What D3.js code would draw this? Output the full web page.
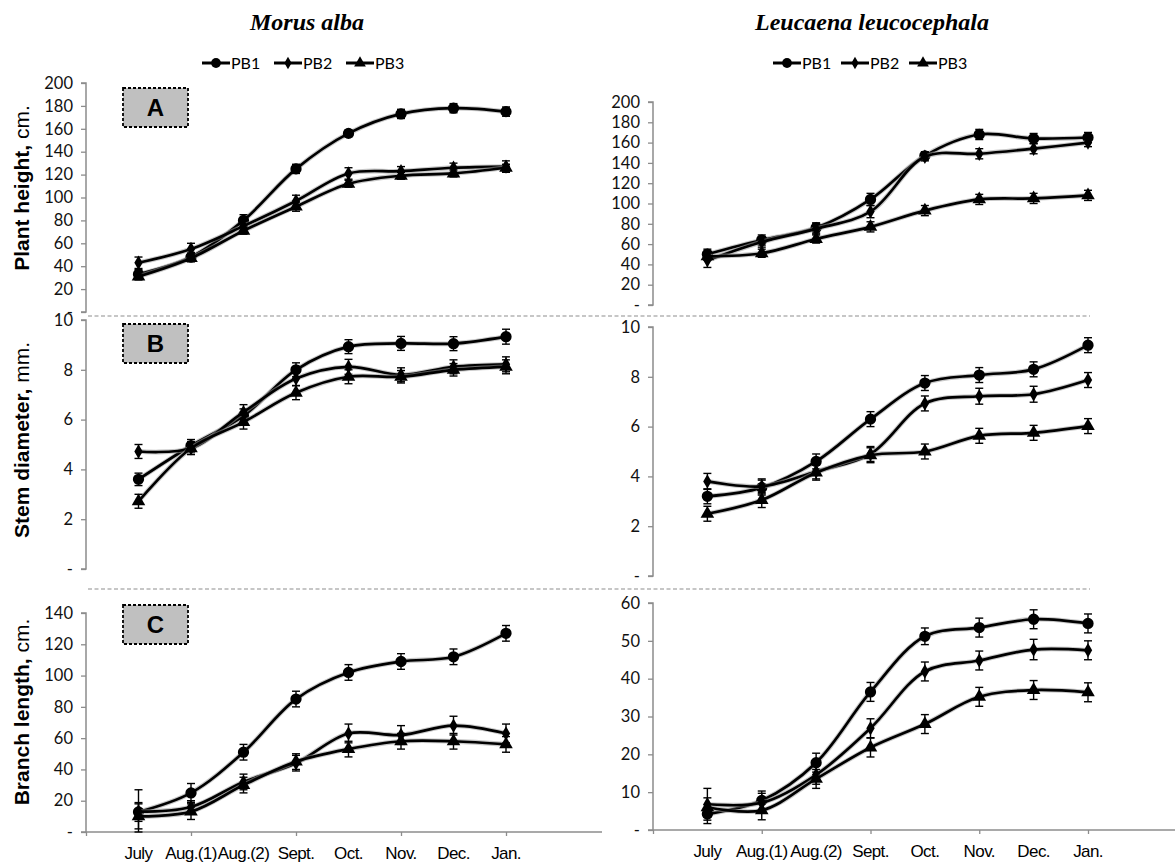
<!DOCTYPE html>
<html>
<head>
<meta charset="utf-8">
<script src="https://cdn.jsdelivr.net/npm/d3@7"></script>
<style>
  html, body { margin: 0; padding: 0; background: #fff; }
  svg { display: block; }
</style>
</head>
<body>
<svg id="chart" width="1175" height="864"></svg>
<script>
// Sampling dates (x categories) and treatment series
const months = ["July", "Aug.(1)", "Aug.(2)", "Sept.", "Oct.", "Nov.", "Dec.", "Jan."];
const seriesNames = ["PB1", "PB2", "PB3"];
const speciesTitles = ["Morus alba", "Leucaena leucocephala"];
const panelLetters = ["A", "B", "C"];
const axisTitlesBold = ["Plant height,", "Stem diameter,", "Branch length,"];
const axisTitlesUnit = ["cm.", "mm.", "cm."];

// Morus alba — plant height (cm)
const morusHeightPB1 = [33, 48, 80, 125, 156, 173, 178, 175];
const morusHeightPB2 = [43, 55, 75, 97, 121, 123, 126, 127];
const morusHeightPB3 = [31, 47, 71, 92, 112, 119, 121, 126];
const morusHeightErr1 = [4, 4, 5, 4, 3, 4, 4, 4];
const morusHeightErr2 = [5, 5, 5, 5, 5, 4, 4, 5];
const morusHeightErr3 = [3, 3, 3, 4, 3, 3, 3, 3];

// Leucaena leucocephala — plant height (cm)
const leucHeightPB1 = [50, 64, 76, 104, 147, 168, 164, 165];
const leucHeightPB2 = [44, 62, 75, 92, 146, 149, 154, 160];
const leucHeightPB3 = [48, 51, 65, 77, 93, 104, 105, 108];
const leucHeightErr1 = [5, 5, 5, 6, 4, 5, 5, 5];
const leucHeightErr2 = [7, 5, 5, 6, 4, 5, 5, 4];
const leucHeightErr3 = [4, 4, 4, 5, 5, 5, 5, 5];

// Morus alba — stem diameter (mm)
const morusDiamPB1 = [3.6, 4.95, 6.15, 8.0, 8.93, 9.06, 9.05, 9.33];
const morusDiamPB2 = [4.72, 4.85, 6.3, 7.65, 8.12, 7.8, 8.12, 8.22];
const morusDiamPB3 = [2.72, 4.85, 5.9, 7.08, 7.72, 7.72, 8.0, 8.12];
const morusDiamErr1 = [0.25, 0.25, 0.28, 0.28, 0.28, 0.28, 0.28, 0.3];
const morusDiamErr2 = [0.28, 0.25, 0.3, 0.28, 0.3, 0.28, 0.28, 0.3];
const morusDiamErr3 = [0.28, 0.25, 0.28, 0.28, 0.28, 0.25, 0.25, 0.28];

// Leucaena leucocephala — stem diameter (mm)
const leucDiamPB1 = [3.2, 3.55, 4.6, 6.3, 7.75, 8.07, 8.3, 9.27];
const leucDiamPB2 = [3.8, 3.6, 4.2, 4.9, 6.93, 7.22, 7.3, 7.87];
const leucDiamPB3 = [2.5, 3.05, 4.15, 4.85, 5.0, 5.63, 5.75, 6.02];
const leucDiamErr1 = [0.3, 0.3, 0.3, 0.3, 0.3, 0.3, 0.3, 0.3];
const leucDiamErr2 = [0.32, 0.3, 0.3, 0.3, 0.3, 0.32, 0.32, 0.3];
const leucDiamErr3 = [0.3, 0.3, 0.3, 0.3, 0.3, 0.3, 0.3, 0.3];

// Morus alba — branch length (cm)
const morusBranchPB1 = [12.8, 25, 51, 85, 102, 109, 112, 127];
const morusBranchPB2 = [13, 16, 32, 44, 63, 62, 68, 63];
const morusBranchPB3 = [10, 13, 30, 45, 53, 58, 58, 56];
const morusBranchErr1 = [6, 6, 5, 5, 5, 5, 5, 5];
const morusBranchErr2 = [14, 4, 5, 5, 6, 6, 6, 6];
const morusBranchErr3 = [8, 5, 5, 5, 5, 5, 5, 5];

// Leucaena leucocephala — branch length (cm)
const leucBranchPB1 = [4.2, 7.8, 17.8, 36.5, 51.2, 53.5, 55.7, 54.6];
const leucBranchPB2 = [6.8, 7.2, 14.6, 26.9, 41.9, 44.8, 47.7, 47.5];
const leucBranchPB3 = [6.0, 5.2, 13.5, 21.8, 28, 35.2, 37, 36.4];
const leucBranchErr1 = [2.5, 2.5, 2.5, 2.5, 2.2, 2.5, 2.5, 2.5];
const leucBranchErr2 = [4.2, 2.5, 2.5, 2.5, 2.5, 2.5, 2.7, 2.5];
const leucBranchErr3 = [2.5, 2.5, 2.5, 2.5, 2.5, 2.5, 2.5, 2.5];

// Y-axis ticks per row
const heightTicks = [0, 20, 40, 60, 80, 100, 120, 140, 160, 180, 200];
const diamTicks = [0, 2, 4, 6, 8, 10];
const morusBranchTicks = [0, 20, 40, 60, 80, 100, 120, 140];
const leucBranchTicks = [0, 10, 20, 30, 40, 50, 60];

const svg = d3.select("#chart");
const tickFont = "Lato, 'Open Sans', sans-serif";
const axisGray = "#8c8c8c";

// Column geometry: x position of axis origin (index -1) and of the last month (index 7)
const columns = [
  { x0: 86, x1: 506, axisEnd: 602, titleX: 307, legendX: 202, legendStep: 72 },
  { x0: 653, x1: 1088, axisEnd: 1175, titleX: 872, legendX: 773, legendStep: 68 }
];

// Panel definitions (row, column) with their vertical extent
const panels = [
  { row: 0, col: 0, ticks: heightTicks, yTop: 83, yZero: 312,
    series: [morusHeightPB1, morusHeightPB2, morusHeightPB3], errs: [morusHeightErr1, morusHeightErr2, morusHeightErr3] },
  { row: 0, col: 1, ticks: heightTicks, yTop: 102, yZero: 305,
    series: [leucHeightPB1, leucHeightPB2, leucHeightPB3], errs: [leucHeightErr1, leucHeightErr2, leucHeightErr3] },
  { row: 1, col: 0, ticks: diamTicks, yTop: 320, yZero: 569,
    series: [morusDiamPB1, morusDiamPB2, morusDiamPB3], errs: [morusDiamErr1, morusDiamErr2, morusDiamErr3] },
  { row: 1, col: 1, ticks: diamTicks, yTop: 327, yZero: 576,
    series: [leucDiamPB1, leucDiamPB2, leucDiamPB3], errs: [leucDiamErr1, leucDiamErr2, leucDiamErr3] },
  { row: 2, col: 0, ticks: morusBranchTicks, yTop: 613, yZero: 832,
    series: [morusBranchPB1, morusBranchPB2, morusBranchPB3], errs: [morusBranchErr1, morusBranchErr2, morusBranchErr3] },
  { row: 2, col: 1, ticks: leucBranchTicks, yTop: 603, yZero: 830,
    series: [leucBranchPB1, leucBranchPB2, leucBranchPB3], errs: [leucBranchErr1, leucBranchErr2, leucBranchErr3] }
];

const symbolTypes = [d3.symbolCircle, d3.symbolDiamond, d3.symbolTriangle];
const symbolSizes = [100, 60, 80];

// Species titles
columns.forEach((c, i) => {
  svg.append("text")
    .attr("x", c.titleX).attr("y", 30)
    .attr("text-anchor", "middle")
    .attr("font-family", "'Liberation Serif', 'Times New Roman', serif")
    .attr("font-style", "italic").attr("font-weight", "bold")
    .attr("font-size", 24)
    .text(speciesTitles[i]);
});

// Legends
columns.forEach(c => {
  const lg = svg.append("g").attr("transform", `translate(${c.legendX},63)`);
  seriesNames.forEach((name, i) => {
    const g = lg.append("g").attr("transform", `translate(${i * c.legendStep},0)`);
    g.append("line").attr("x1", 0).attr("x2", 28).attr("y1", 0).attr("y2", 0)
      .attr("stroke", "#000").attr("stroke-width", 3);
    g.append("path").attr("transform", "translate(14,0)")
      .attr("d", d3.symbol().type(symbolTypes[i]).size(symbolSizes[i] * 0.75)());
    g.append("text").attr("x", 29).attr("y", 5.5)
      .attr("font-family", tickFont).attr("font-size", 16)
      .text(name);
  });
});

// Dashed separators between rows
[316, 589].forEach(y => {
  svg.append("line").attr("x1", 88).attr("x2", 1090).attr("y1", y).attr("y2", y)
    .attr("stroke", "#b4b4b4").attr("stroke-width", 1.3).attr("stroke-dasharray", "4,2.5");
});

// Row titles on the left
const rowCenters = [188, 440, 712];
rowCenters.forEach((cy, i) => {
  const t = svg.append("text")
    .attr("transform", `translate(29,${cy}) rotate(-90)`)
    .attr("text-anchor", "middle")
    .attr("font-family", "'Liberation Sans', Arial, sans-serif")
    .attr("font-size", 21);
  t.append("tspan").attr("font-weight", "bold").text(axisTitlesBold[i] + " ");
  t.append("tspan").text(axisTitlesUnit[i]);
});

// Draw each panel
panels.forEach(p => {
  const c = columns[p.col];
  const x = d3.scaleLinear().domain([-1, months.length - 1]).range([c.x0, c.x1]);
  const maxTick = p.ticks[p.ticks.length - 1];
  const y = d3.scaleLinear().domain([0, maxTick]).range([p.yZero, p.yTop]);
  const g = svg.append("g");

  // Y axis (zero shown as a dash)
  const yAxis = d3.axisLeft(y).tickValues(p.ticks).tickSize(5).tickPadding(8)
    .tickFormat(d => d === 0 ? "-" : d);
  const ya = g.append("g").attr("transform", `translate(${c.x0},0)`).call(yAxis);
  ya.select(".domain").attr("stroke", axisGray).attr("stroke-width", 1.5)
    .attr("d", `M-5,${y(maxTick)}H0V${y(0)}H-5`);
  ya.selectAll(".tick line").attr("stroke", axisGray).attr("stroke-width", 1.3);
  ya.selectAll(".tick text").attr("font-family", tickFont).attr("font-size", 16.5).attr("fill", "#111");

  // X axis only on bottom row
  if (p.row === 2) {
    const xa = g.append("g").attr("transform", `translate(0,${p.yZero})`)
      .call(d3.axisBottom(x).tickValues([-1, 1, 3, 5, 7]).tickSize(4).tickFormat(""));
    xa.select(".domain").attr("stroke", axisGray).attr("stroke-width", 1.5)
      .attr("d", `M${c.x0},0H${c.axisEnd}`);
    xa.selectAll(".tick line").attr("stroke", axisGray).attr("stroke-width", 1.3);
    g.append("g").selectAll("text").data(months).join("text")
      .attr("x", (d, i) => x(i)).attr("y", p.yZero + 27)
      .attr("text-anchor", "middle")
      .attr("font-family", "'Liberation Sans', Arial, sans-serif")
      .attr("font-size", 17).attr("letter-spacing", -0.6)
      .text(d => d);
  }

  // Panel letter box
  if (p.col === 0) {
    const boxY = [88, 324, 605][p.row];
    svg.append("rect").attr("x", 123).attr("y", boxY).attr("width", 65).attr("height", 39)
      .attr("fill", "#c0c0c0").attr("stroke", "#000").attr("stroke-width", 1.8)
      .attr("stroke-dasharray", "3,2");
    svg.append("text").attr("x", 155.5).attr("y", boxY + 28)
      .attr("text-anchor", "middle")
      .attr("font-family", "'Liberation Sans', Arial, sans-serif")
      .attr("font-weight", "bold").attr("font-size", 24)
      .text(panelLetters[p.row]);
  }

  const line = d3.line().x((d, i) => x(i)).y(d => y(d)).curve(d3.curveCatmullRom.alpha(0.5));

  p.series.forEach((vals, si) => {
    const errs = p.errs[si];
    // soft halo under the line
    g.append("path").attr("d", line(vals)).attr("fill", "none")
      .attr("stroke", "#9a9a9a").attr("stroke-width", 4.8).attr("stroke-opacity", 0.55);
    g.append("path").attr("d", line(vals)).attr("fill", "none")
      .attr("stroke", "#000").attr("stroke-width", 2.7);

    // error bars
    const eb = g.append("g").attr("stroke", "#000").attr("stroke-width", 1.4);
    vals.forEach((v, i) => {
      const xi = x(i), yHi = y(v + errs[i]), yLo = y(Math.max(0, v - errs[i]));
      eb.append("line").attr("x1", xi).attr("x2", xi).attr("y1", yHi).attr("y2", yLo);
      eb.append("line").attr("x1", xi - 4).attr("x2", xi + 4).attr("y1", yHi).attr("y2", yHi);
      eb.append("line").attr("x1", xi - 4).attr("x2", xi + 4).attr("y1", yLo).attr("y2", yLo);
    });

    // markers
    g.append("g").selectAll("path").data(vals).join("path")
      .attr("transform", (d, i) => `translate(${x(i)},${y(d)})`)
      .attr("d", d3.symbol().type(symbolTypes[si]).size(symbolSizes[si])())
      .attr("fill", "#000");
  });
});
</script>
</body>
</html>
